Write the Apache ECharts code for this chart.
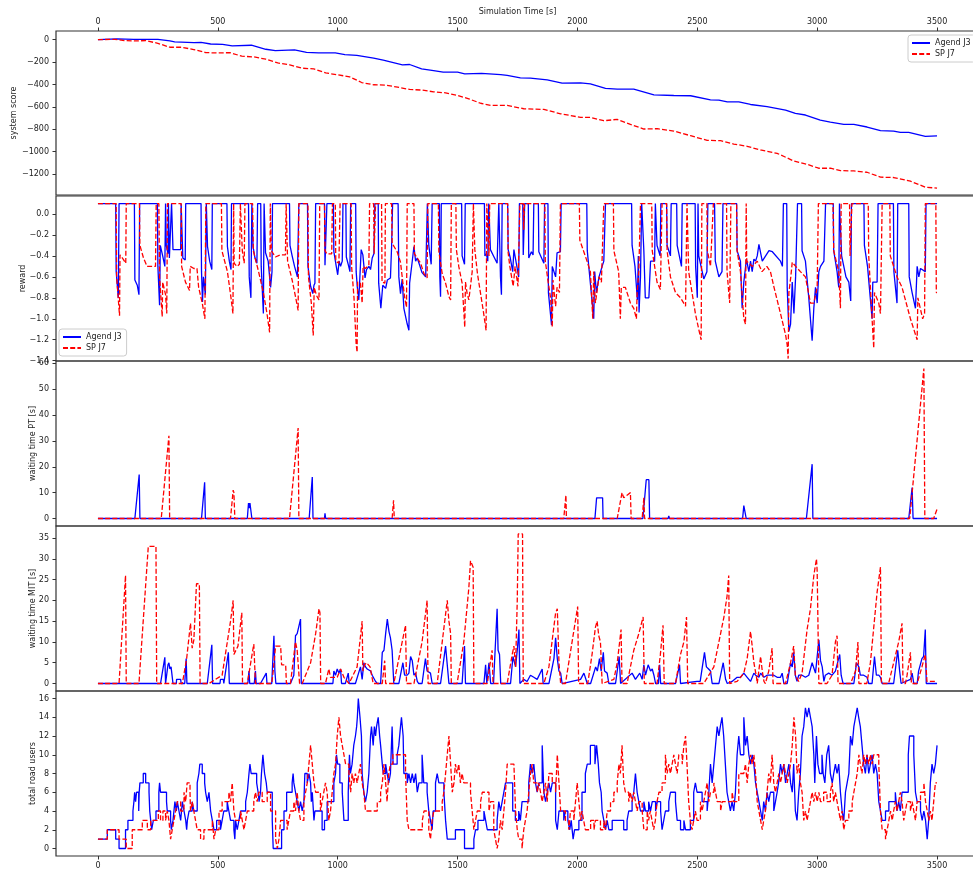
<!DOCTYPE html>
<html><head><meta charset="utf-8">
<script src="https://cdn.jsdelivr.net/npm/echarts@6/dist/echarts.min.js"></script>
<style>html,body{margin:0;padding:0;background:#fff}#c{width:973px;height:870px}</style>
</head><body><div id="c"></div>
<script>
// ---------- data ----------
const seriesNames = ['Agend J3', 'SP J7'];
const xTicks = [0, 500, 1000, 1500, 2000, 2500, 3000, 3500];
const scoreTicks = [-1200, -1000, -800, -600, -400, -200, 0];
const rewardTicks = [-1.4, -1.2, -1.0, -0.8, -0.6, -0.4, -0.2, 0.0];
const ptTicks = [0, 10, 20, 30, 40, 50, 60];
const mitTicks = [0, 5, 10, 15, 20, 25, 30, 35];
const usersTicks = [0, 2, 4, 6, 8, 10, 12, 14, 16];

const scoreBlue = [[0,0],[80,6],[150,3],[250,3],[300,-12],[320,-20],[400,-27],[430,-24],[470,-39],[520,-42],[560,-56],[640,-50],[700,-86],[740,-98],[820,-92],[870,-113],[920,-119],[990,-119],[1030,-134],[1080,-140],[1150,-166],[1190,-184],[1270,-225],[1300,-222],[1350,-261],[1400,-276],[1440,-291],[1500,-291],[1530,-306],[1600,-302],[1680,-312],[1707,-320],[1762,-341],[1804,-344],[1874,-359],[1936,-389],[2013,-386],[2054,-395],[2117,-436],[2166,-442],[2235,-442],[2319,-493],[2402,-499],[2472,-501],[2555,-537],[2590,-540],[2625,-555],[2673,-555],[2722,-579],[2791,-599],[2868,-629],[2909,-659],[2951,-673],[3013,-718],[3055,-736],[3111,-757],[3153,-757],[3208,-780],[3264,-813],[3319,-816],[3347,-828],[3382,-828],[3451,-863],[3500,-860]];
const scoreRed = [[0,0],[70,3],[110,-9],[150,-12],[200,-9],[250,-33],[300,-68],[350,-68],[400,-89],[450,-116],[500,-119],[550,-116],[600,-148],[650,-154],[700,-175],[750,-208],[800,-225],[850,-255],[900,-261],[950,-297],[1000,-314],[1050,-332],[1100,-383],[1150,-403],[1200,-406],[1250,-424],[1300,-445],[1350,-450],[1400,-466],[1450,-475],[1500,-498],[1550,-531],[1596,-568],[1638,-587],[1707,-587],[1776,-617],[1860,-623],[1930,-662],[2013,-694],[2054,-694],[2110,-724],[2166,-712],[2221,-757],[2277,-798],[2333,-795],[2402,-816],[2472,-858],[2541,-899],[2597,-902],[2652,-932],[2708,-952],[2763,-985],[2833,-1015],[2902,-1083],[2958,-1113],[3006,-1148],[3055,-1148],[3097,-1169],[3153,-1172],[3208,-1184],[3264,-1228],[3319,-1231],[3389,-1264],[3451,-1317],[3500,-1326]];

const rewardBlue = [[0,0.1],[74,0.1],[76,-0.55],[85,-0.8],[88,0.1],[152,0.1],[154,-0.63],[164,-0.68],[171,-0.77],[174,0.1],[248,0.1],[250,-0.5],[257,-0.87],[260,-0.3],[270,-0.4],[279,-0.5],[282,0.1],[283,0.1],[285,-0.3],[292,-0.38],[294,0.1],[296,0.1],[298,-0.42],[305,-0.43],[307,0.1],[311,0.1],[313,-0.34],[345,-0.34],[347,0.1],[352,0.1],[354,-0.42],[364,-0.44],[366,0.1],[430,0.1],[432,-0.55],[436,-0.84],[440,-0.6],[448,-0.77],[452,0.1],[455,0.1],[457,-0.31],[466,-0.45],[475,-0.53],[477,0.1],[538,0.1],[540,-0.31],[548,-0.45],[555,-0.53],[557,0.1],[628,0.1],[631,-0.6],[638,-0.8],[642,0.1],[645,0.1],[647,-0.31],[655,-0.42],[663,-0.47],[666,0.1],[679,0.1],[681,-0.5],[690,-0.95],[693,0.1],[697,0.1],[699,-0.37],[710,-0.45],[720,-0.7],[726,-0.55],[728,0.1],[799,0.1],[801,-0.3],[810,-0.4],[820,-0.5],[832,-0.6],[838,0.1],[874,0.1],[876,-0.5],[887,-0.69],[896,-0.76],[901,-0.68],[905,-0.66],[908,0.1],[945,0.1],[947,-0.49],[952,-0.49],[955,0.1],[982,0.1],[984,-0.36],[994,-0.5],[1000,-0.58],[1006,-0.45],[1012,-0.5],[1019,-0.45],[1022,0.1],[1034,0.1],[1036,-0.41],[1046,-0.5],[1051,-0.55],[1054,0.1],[1075,0.1],[1077,-0.55],[1082,-0.7],[1088,-0.82],[1098,-0.34],[1105,-0.39],[1114,-0.61],[1120,-0.53],[1130,-0.5],[1137,-0.53],[1144,-0.42],[1151,-0.38],[1155,0.1],[1169,0.1],[1171,-0.66],[1180,-0.9],[1188,-0.68],[1200,-0.71],[1207,-0.63],[1214,-0.63],[1220,-0.61],[1225,-0.3],[1229,0.1],[1252,0.1],[1255,-0.6],[1262,-0.76],[1269,-0.62],[1276,-0.9],[1290,-1.05],[1297,-1.11],[1300,-0.66],[1310,-0.47],[1318,-0.31],[1325,-0.45],[1332,-0.42],[1352,-0.56],[1367,-0.6],[1374,0.1],[1378,0.1],[1380,-0.3],[1390,-0.48],[1394,0.1],[1424,0.1],[1426,-0.6],[1429,-0.79],[1432,0.1],[1517,0.1],[1519,-0.4],[1529,-0.48],[1532,0.1],[1612,0.1],[1614,-0.4],[1620,-0.38],[1626,-0.45],[1630,0.1],[1635,0.1],[1637,-0.34],[1650,-0.4],[1665,-0.47],[1672,0.1],[1677,0.1],[1679,-0.6],[1683,-0.77],[1686,0.1],[1709,0.1],[1711,-0.34],[1720,-0.42],[1730,-0.55],[1735,-0.34],[1745,-0.47],[1755,-0.6],[1758,0.1],[1772,0.1],[1774,-0.39],[1780,0.1],[1795,0.1],[1797,-0.42],[1808,-0.36],[1815,-0.39],[1818,0.1],[1837,0.1],[1839,-0.36],[1860,-0.47],[1863,0.1],[1877,0.1],[1879,-0.75],[1892,-1.06],[1895,-0.5],[1909,-0.6],[1915,-0.37],[1929,-0.36],[1932,0.1],[2039,0.1],[2041,-0.35],[2068,-1.0],[2072,-0.55],[2079,-0.75],[2090,-0.6],[2103,-0.5],[2110,-0.45],[2117,0.1],[2226,0.1],[2228,-0.3],[2240,-0.5],[2250,-0.82],[2254,-0.4],[2257,-0.94],[2263,-0.6],[2268,0.1],[2275,0.1],[2277,-0.35],[2283,-0.8],[2298,-0.8],[2305,-0.45],[2322,-0.45],[2325,0.1],[2330,0.1],[2332,-0.3],[2345,-0.4],[2348,0.1],[2372,0.1],[2374,-0.3],[2388,-0.4],[2391,0.1],[2414,0.1],[2416,-0.3],[2434,-0.5],[2437,0.1],[2491,0.1],[2493,-0.5],[2500,-0.8],[2503,0.1],[2504,0.1],[2506,-0.4],[2527,-0.62],[2540,-0.55],[2544,0.1],[2572,0.1],[2575,-0.45],[2590,-0.6],[2603,-0.55],[2607,0.1],[2664,0.1],[2666,-0.35],[2680,-0.45],[2687,-0.9],[2694,-0.65],[2705,-0.43],[2715,-0.55],[2722,-0.45],[2729,-0.55],[2736,-0.43],[2743,-0.45],[2750,-0.4],[2757,-0.29],[2764,-0.3],[2771,-0.45],[2785,-0.4],[2799,-0.35],[2813,-0.36],[2847,-0.45],[2855,-0.5],[2859,0.1],[2873,0.1],[2875,-0.7],[2882,-1.12],[2889,-1.05],[2896,-0.65],[2903,-0.95],[2910,-0.6],[2918,0.1],[2935,0.1],[2937,-0.35],[2951,-0.45],[2965,-0.8],[2979,-1.21],[2986,-0.9],[2993,-0.7],[3000,-0.85],[3007,-0.55],[3014,-0.5],[3028,-0.45],[3035,0.1],[3067,0.1],[3069,-0.35],[3083,-0.55],[3090,-0.7],[3093,0.1],[3100,0.1],[3102,-0.4],[3120,-0.6],[3132,-0.65],[3140,-0.83],[3143,0.1],[3195,0.1],[3197,-0.3],[3210,-0.5],[3229,-1.0],[3232,-0.65],[3250,-0.65],[3254,0.1],[3318,0.1],[3320,-0.55],[3333,-0.85],[3336,0.1],[3382,0.1],[3384,-0.6],[3396,-0.75],[3410,-0.9],[3417,-0.5],[3424,-0.6],[3431,-0.52],[3451,-0.55],[3454,0.1],[3500,0.1]];
const rewardRed = [[0,0.1],[76,0.1],[78,-0.6],[90,-0.97],[92,-0.39],[105,-0.43],[116,-0.47],[118,0.1],[173,0.1],[175,-0.3],[190,-0.42],[205,-0.5],[240,-0.5],[243,0.1],[254,0.1],[257,-0.6],[268,-0.98],[270,-0.65],[282,-0.77],[287,-0.95],[290,0.1],[347,0.1],[349,-0.5],[365,-0.65],[382,-0.73],[385,-0.5],[400,-0.52],[413,-0.52],[420,-0.7],[435,-0.85],[446,-1.0],[450,0.1],[515,0.1],[517,-0.35],[540,-0.55],[555,-0.8],[563,-0.95],[566,0.1],[568,-0.47],[580,-0.5],[590,-0.48],[594,0.1],[600,0.1],[602,-0.35],[610,-0.47],[613,0.1],[645,0.1],[648,-0.35],[670,-0.55],[690,-0.75],[705,-0.95],[716,-1.13],[719,0.1],[721,0.1],[723,-0.35],[740,-0.41],[760,-0.39],[782,-0.39],[785,0.1],[789,0.1],[791,-0.45],[810,-0.63],[825,-0.8],[835,-0.92],[838,0.1],[876,0.1],[878,-0.6],[890,-0.85],[898,-1.16],[902,-0.7],[912,-0.78],[922,-0.82],[925,0.1],[945,0.1],[947,-0.35],[955,-0.38],[975,-0.38],[978,0.1],[990,0.1],[992,-0.45],[1005,-0.47],[1010,0.1],[1056,0.1],[1058,-0.5],[1068,-0.8],[1077,-1.24],[1081,-1.32],[1083,-0.65],[1095,-0.66],[1102,-0.85],[1106,-0.5],[1115,-0.52],[1130,-0.49],[1133,0.1],[1150,0.1],[1152,-0.38],[1158,0.1],[1183,0.1],[1185,-0.65],[1197,-0.66],[1199,0.1],[1225,0.1],[1227,-0.28],[1248,-0.36],[1262,-0.46],[1269,-0.6],[1279,-0.79],[1287,-0.89],[1290,0.1],[1318,0.1],[1320,-0.38],[1346,-0.47],[1360,-0.57],[1373,-0.61],[1376,0.1],[1420,0.1],[1422,-0.36],[1436,-0.57],[1450,-0.66],[1464,-0.79],[1471,-0.82],[1474,0.1],[1493,0.1],[1495,-0.34],[1505,-0.5],[1519,-0.66],[1530,-1.08],[1533,-0.65],[1540,-0.76],[1547,-0.82],[1554,-0.82],[1561,-0.55],[1566,0.1],[1570,0.1],[1572,-0.34],[1583,-0.57],[1596,-0.76],[1607,-0.92],[1619,-1.11],[1622,0.1],[1630,0.1],[1631,-0.4],[1634,0.1],[1709,0.1],[1711,-0.37],[1718,-0.5],[1732,-0.69],[1740,-0.5],[1752,-0.69],[1760,0.1],[1775,0.1],[1776,-0.15],[1779,0.1],[1864,0.1],[1866,-0.45],[1878,-0.65],[1888,-0.8],[1895,-1.08],[1898,-0.63],[1905,-0.8],[1909,-0.88],[1915,-0.7],[1925,-0.75],[1929,0.1],[2008,0.1],[2010,-0.25],[2040,-0.45],[2054,-0.55],[2064,-1.0],[2068,-0.55],[2075,-0.85],[2090,-0.6],[2100,-0.65],[2110,0.1],[2150,0.1],[2152,-0.35],[2172,-0.55],[2179,-1.0],[2183,-0.7],[2200,-0.7],[2207,-0.75],[2221,-0.85],[2235,-0.9],[2246,-1.0],[2249,-0.75],[2256,-0.55],[2263,0.1],[2310,0.1],[2312,-0.35],[2332,-0.65],[2346,-0.72],[2353,0.1],[2372,0.1],[2374,-0.35],[2388,-0.6],[2409,-0.75],[2430,-0.8],[2451,-0.88],[2457,0.1],[2462,0.1],[2464,-0.55],[2492,-0.95],[2506,-1.1],[2516,-1.2],[2519,0.1],[2540,0.1],[2542,-0.35],[2555,-0.5],[2567,0.1],[2622,0.1],[2624,-0.55],[2635,-0.85],[2640,0.1],[2664,0.1],[2666,-0.35],[2680,-0.55],[2694,-1.0],[2701,-1.05],[2704,0.1],[2706,-0.45],[2730,-0.5],[2750,-0.45],[2770,-0.55],[2790,-0.5],[2805,-0.55],[2820,-0.7],[2847,-0.95],[2868,-1.15],[2875,-1.25],[2879,-1.38],[2882,-0.75],[2890,-0.6],[2896,-0.46],[2903,-0.48],[2930,-0.55],[2951,-0.6],[2972,-0.85],[2986,-0.85],[3000,-0.7],[3005,0.1],[3066,0.1],[3069,-0.35],[3090,-0.55],[3097,-0.9],[3100,0.1],[3135,0.1],[3137,-0.4],[3145,0.1],[3213,0.1],[3215,-0.4],[3229,-1.0],[3236,-1.28],[3239,-0.75],[3257,-0.85],[3264,-0.95],[3271,0.1],[3303,0.1],[3305,-0.4],[3333,-0.6],[3354,-0.7],[3389,-1.0],[3417,-1.2],[3420,-0.8],[3440,-1.0],[3448,-0.95],[3451,0.1],[3495,0.1],[3497,-0.75],[3500,-0.75]];

const ptBlue = [[0,0],[154,0],[172,17],[175,0],[432,0],[445,14],[448,0],[623,0],[628,6],[631,4],[634,6],[640,6.5],[642,0],[881,0],[894,16],[897,0],[945,0],[947,2],[950,0],[2073,0],[2080,8],[2105,8],[2107,0],[2273,0],[2287,15],[2298,15],[2301,0],[2378,0],[2381,1],[2384,0],[2689,0],[2694,5],[2701,5],[2704,0],[2955,0],[2979,21],[2982,0],[3382,0],[3396,12],[3400,0],[3500,0]];
const ptRed = [[0,0],[264,0],[296,32],[299,0],[553,0],[564,11],[567,10],[571,0],[799,0],[835,35],[838,0],[1227,0],[1233,7],[1236,0],[1943,0],[1952,9],[1954,0],[2166,0],[2186,10],[2193,8],[2207,9],[2221,10],[2224,0],[2270,0],[2277,8],[2280,0],[3386,0],[3445,58],[3449,0],[3486,0],[3500,3.6]];

const mitBlue = [[0,0],[150,0],[154,0.4],[158,0],[261,0],[279,6.3],[282,0],[288,0],[292,4.5],[296,5],[300,3.5],[305,4],[311,4],[313,0],[327,0],[328,1],[345,1],[347,0],[362,0],[368,6],[371,0],[456,0],[475,9.3],[478,0],[509,0],[511,1],[523,1],[525,0],[544,7.5],[548,0],[625,0],[630,3],[633,0],[652,0],[657,3],[660,0],[678,0],[702,2.5],[705,0],[725,0],[734,11.5],[738,3],[742,0],[803,0],[817,2],[824,11.5],[831,12],[845,15.5],[848,0],[980,0],[984,3],[991,2],[998,3.5],[1005,2.5],[1012,3.5],[1016,0],[1032,0],[1044,2.5],[1048,0],[1074,0],[1095,4],[1102,1],[1109,5],[1116,4],[1123,3.5],[1137,3],[1144,2],[1158,0.5],[1165,0],[1179,0],[1186,7.5],[1193,8],[1200,12],[1207,15.5],[1214,12.5],[1220,11],[1227,8],[1234,0],[1255,0],[1272,5],[1279,2],[1290,2],[1297,2.5],[1304,6.5],[1311,5.5],[1318,2],[1325,2.5],[1332,0.5],[1338,0],[1352,0],[1366,6],[1373,3],[1387,2.5],[1394,0],[1429,0],[1450,9],[1464,0],[1519,0],[1529,9],[1533,0],[1610,0],[1617,4.5],[1622,0],[1624,0],[1631,5],[1638,0],[1650,0],[1665,18],[1669,8],[1675,7],[1680,0],[1721,0],[1731,6.5],[1742,4],[1749,8],[1756,13],[1760,0],[1776,1],[1790,0.5],[1804,2],[1818,1.5],[1832,1],[1853,3.5],[1857,0],[1881,0],[1902,6],[1909,11],[1916,6],[1923,3],[1930,2.5],[1936,0],[2013,1],[2027,2.5],[2041,0],[2055,0],[2076,4],[2083,3],[2092,6],[2099,3],[2108,7.5],[2113,3],[2124,2.5],[2131,0],[2159,0],[2174,6.5],[2180,0],[2228,2.5],[2242,1],[2260,2.5],[2270,1],[2277,4.5],[2284,2],[2295,4.5],[2305,3],[2312,3.5],[2319,2],[2326,0],[2338,0],[2343,4.5],[2347,0],[2409,0],[2426,4.5],[2430,0],[2499,0.5],[2512,0.5],[2530,7.5],[2538,4],[2547,3.5],[2555,3],[2562,0],[2590,0],[2608,5],[2618,1],[2625,0],[2645,0.5],[2666,1.5],[2680,1.5],[2694,2.5],[2708,1.5],[2722,0.5],[2736,2.5],[2743,2],[2757,1.5],[2764,2.5],[2778,1.5],[2791,2],[2805,2],[2819,2],[2833,1.5],[2847,1.5],[2854,2.5],[2861,0],[2875,0],[2889,5],[2896,4],[2902,7.5],[2909,2],[2916,0.5],[2923,2],[2937,2],[2951,1.5],[2965,2],[2979,5],[2993,2.5],[3007,10.5],[3014,5.5],[3021,4],[3028,0.5],[3034,2],[3048,2.5],[3062,2],[3076,3],[3094,7],[3100,2],[3108,0],[3153,0],[3164,5],[3174,4],[3180,2],[3194,2],[3208,1.5],[3215,0],[3229,0],[3239,6.5],[3247,2],[3257,2],[3264,1.5],[3271,0],[3319,0],[3336,8],[3344,3],[3350,0],[3389,1],[3396,2.5],[3403,0],[3417,0],[3423,3],[3437,6],[3444,6.5],[3451,13],[3455,0],[3500,0]];
const mitRed = [[0,0],[88,0],[115,26],[118,0],[171,0],[210,33],[242,33],[245,0],[352,0],[370,6],[386,14.5],[393,8.5],[400,10.5],[411,24],[423,24],[426,0],[463,0],[518,2],[553,15],[564,20],[567,7],[574,7],[584,9],[600,17],[603,0],[623,0],[650,9.5],[657,0],[725,0],[731,3],[741,9],[762,9],[766,4.5],[783,4.5],[786,0],[803,0],[824,10],[831,8],[838,8],[841,0],[852,0],[887,5],[908,12],[922,18],[926,17],[929,0],[949,0],[963,3.5],[970,1.5],[984,1.5],[998,1.5],[1012,3.5],[1026,1.5],[1047,0],[1054,0],[1081,4],[1102,15],[1105,3],[1112,4.5],[1120,5],[1135,4],[1148,0],[1186,0],[1196,5.5],[1200,0],[1234,0],[1283,14],[1287,0],[1318,0],[1352,10],[1373,20],[1377,0],[1415,0],[1457,20],[1464,15],[1471,12],[1474,0],[1498,0],[1526,10],[1547,23],[1554,29.5],[1565,28],[1568,0],[1624,0],[1644,8],[1648,0],[1707,0],[1728,7],[1735,9],[1742,4],[1749,20],[1753,36],[1771,36],[1774,0],[1860,0],[1881,4],[1909,17],[1916,18],[1923,5],[1930,0],[1950,0],[2001,18.5],[2005,0],[2043,0],[2061,7],[2075,13.5],[2082,15],[2089,11.5],[2096,10],[2103,0],[2152,1],[2166,5],[2182,13],[2186,0],[2207,0],[2221,4],[2235,8],[2256,12],[2274,16],[2279,0],[2332,0],[2346,7],[2357,14],[2362,0],[2409,0],[2430,7],[2444,10],[2455,16],[2460,0],[2527,0],[2548,2],[2569,4],[2590,10],[2611,16],[2624,21],[2631,26],[2635,0],[2666,0.5],[2694,2.5],[2708,6],[2722,12.5],[2729,9],[2736,5],[2747,1.5],[2750,0],[2753,0],[2764,6.5],[2771,3],[2778,0.5],[2784,0],[2798,3],[2812,8.5],[2816,0],[2868,0],[2889,5],[2902,9],[2909,2],[2923,0.5],[2937,2.5],[2958,13],[2972,18],[2986,26],[2997,30],[3000,27],[3007,0],[3041,0],[3062,2],[3076,10],[3083,11.5],[3087,0],[3139,0],[3160,3],[3170,10],[3174,0],[3207,0],[3222,5],[3250,22],[3264,28],[3268,0],[3298,0],[3319,5],[3340,10],[3354,14.5],[3358,0],[3368,0],[3375,2],[3389,7.5],[3393,0],[3417,0],[3437,4],[3451,7],[3458,0.5],[3500,0.5]];

const usersBlue = [[0,1],[39,2],[74,1],[88,0],[115,2],[125,3],[146,4],[150,5],[153,6],[157,5],[161,6],[170,4],[172,6],[175,7],[189,8],[199,7],[213,6],[216,4],[220,3],[224,2],[231,3],[242,4],[254,6],[257,7],[261,6],[286,5],[289,4],[303,3],[306,2],[313,3],[321,5],[327,4],[331,5],[338,4],[345,3],[352,5],[359,4],[366,3],[370,2],[373,3],[380,4],[393,5],[400,4],[414,7],[421,8],[425,9],[435,8],[445,7],[449,6],[456,5],[463,6],[470,4],[477,3],[484,2],[495,3],[511,2],[518,3],[525,4],[539,5],[546,4],[553,3],[567,2],[571,1],[574,3],[581,2],[588,3],[595,4],[616,5],[623,6],[630,8],[634,9],[639,8],[662,7],[668,6],[672,5],[678,6],[682,8],[688,10],[695,8],[702,7],[706,6],[727,3],[731,0],[766,2],[776,4],[787,6],[810,7],[814,8],[817,7],[824,6],[831,5],[838,4],[845,5],[852,4],[859,5],[863,8],[873,7],[880,8],[887,7],[890,5],[894,6],[901,3],[905,4],[935,2],[945,3],[956,5],[984,7],[991,8],[995,10],[1000,9],[1009,7],[1019,6],[1026,3],[1044,6],[1049,10],[1053,8],[1060,9],[1067,11],[1074,12],[1079,13],[1082,14],[1086,16],[1093,14],[1099,12],[1102,8],[1109,6],[1116,5],[1123,6],[1130,8],[1137,12],[1141,13],[1148,11],[1153,13],[1158,12],[1162,13],[1169,14],[1175,12],[1179,11],[1186,9],[1190,8],[1200,9],[1206,8],[1213,7],[1220,8],[1227,13],[1231,9],[1248,10],[1255,11],[1262,13],[1266,14],[1273,12],[1276,8],[1290,7],[1297,8],[1304,7],[1311,8],[1318,7],[1325,8],[1332,6],[1339,7],[1352,10],[1359,7],[1373,6],[1380,4],[1387,3],[1394,2],[1398,4],[1408,7],[1415,8],[1422,7],[1443,6],[1450,3],[1457,1],[1491,2],[1529,0],[1568,1],[1575,2],[1585,3],[1610,4],[1617,3],[1624,2],[1665,3],[1672,5],[1679,4],[1686,5],[1693,6],[1700,7],[1730,4],[1741,3],[1755,4],[1762,3],[1769,5],[1797,7],[1804,9],[1811,8],[1818,9],[1825,7],[1832,6],[1839,7],[1853,11],[1860,6],[1867,5],[1874,6],[1881,7],[1888,6],[1895,7],[1909,3],[1916,2],[1923,4],[1943,3],[1950,4],[1960,3],[1968,2],[1974,3],[1982,1],[1988,2],[2006,3],[2019,6],[2033,8],[2041,9],[2054,11],[2073,9],[2080,11],[2087,9],[2092,7],[2099,6],[2103,4],[2110,3],[2117,2],[2124,3],[2131,2],[2145,3],[2193,2],[2207,3],[2214,4],[2228,5],[2235,6],[2242,8],[2249,6],[2256,5],[2263,4],[2277,5],[2284,4],[2297,5],[2305,4],[2312,5],[2326,4],[2333,5],[2347,4],[2353,2],[2360,3],[2367,4],[2381,5],[2388,6],[2409,5],[2416,3],[2430,2],[2444,3],[2451,2],[2471,3],[2485,6],[2492,7],[2499,6],[2520,5],[2541,4],[2548,6],[2555,9],[2562,7],[2569,9],[2576,11],[2583,13],[2590,12],[2596,13],[2603,14],[2610,12],[2617,9],[2624,6],[2631,5],[2638,4],[2645,5],[2652,4],[2659,6],[2666,10],[2673,12],[2680,10],[2694,14],[2701,11],[2708,12],[2715,10],[2722,9],[2729,10],[2736,9],[2743,7],[2750,6],[2757,5],[2764,4],[2771,3],[2777,5],[2784,4],[2791,6],[2798,5],[2805,6],[2819,4],[2826,5],[2833,6],[2839,7],[2847,9],[2854,8],[2861,9],[2868,7],[2875,8],[2882,9],[2889,7],[2896,6],[2902,9],[2909,4],[2916,3],[2923,6],[2930,8],[2937,12],[2944,13],[2951,15],[2958,14],[2965,15],[2972,14],[2979,13],[2986,10],[2990,7],[2997,12],[3003,9],[3010,8],[3020,10],[3025,8],[3032,7],[3040,10],[3048,11],[3055,8],[3063,7],[3069,8],[3076,9],[3083,8],[3090,9],[3097,6],[3104,4],[3111,3],[3118,6],[3125,7],[3132,8],[3139,12],[3146,11],[3153,13],[3160,14],[3167,15],[3173,14],[3180,13],[3187,11],[3194,9],[3201,8],[3208,10],[3215,8],[3222,9],[3229,10],[3236,8],[3243,9],[3250,8],[3257,5],[3264,4],[3271,3],[3285,4],[3299,5],[3326,6],[3333,4],[3340,5],[3347,4],[3354,6],[3380,10],[3385,12],[3403,10],[3410,6],[3417,5],[3431,4],[3438,3],[3445,4],[3452,3],[3459,1],[3465,3],[3472,7],[3479,9],[3486,8],[3493,9],[3500,11]];
const usersRed = [[0,1],[39,2],[88,1],[118,0],[143,2],[185,3],[206,2],[220,3],[252,4],[261,3],[271,4],[282,3],[289,4],[296,3],[303,1],[310,2],[317,3],[324,4],[331,5],[345,4],[359,6],[366,5],[372,7],[384,6],[386,4],[393,5],[400,4],[407,3],[414,2],[428,1],[442,2],[477,3],[484,1],[491,2],[505,4],[518,5],[546,6],[553,5],[560,7],[567,4],[574,3],[595,4],[602,3],[609,2],[616,3],[623,4],[650,5],[657,6],[664,5],[671,6],[685,5],[706,6],[720,4],[741,1],[748,0],[755,1],[762,3],[789,2],[796,3],[803,4],[817,5],[824,4],[831,6],[838,4],[845,3],[859,5],[866,6],[873,7],[880,9],[887,11],[894,9],[901,7],[908,6],[928,4],[935,5],[942,6],[949,7],[956,6],[963,3],[970,4],[977,6],[984,8],[991,9],[998,12],[1005,14],[1012,12],[1019,11],[1026,10],[1033,9],[1047,8],[1054,6],[1060,8],[1067,7],[1074,8],[1081,7],[1088,8],[1095,9],[1102,7],[1109,6],[1116,4],[1165,5],[1179,6],[1186,7],[1193,9],[1200,7],[1206,5],[1213,8],[1220,9],[1230,10],[1283,8],[1290,3],[1297,2],[1353,3],[1360,4],[1380,2],[1387,1],[1394,3],[1401,4],[1436,5],[1443,6],[1450,8],[1457,10],[1464,12],[1471,9],[1478,6],[1485,7],[1491,9],[1498,8],[1505,9],[1512,7],[1519,8],[1526,7],[1554,6],[1561,4],[1568,2],[1575,3],[1582,4],[1596,5],[1603,6],[1631,4],[1638,5],[1651,2],[1658,1],[1665,0],[1672,1],[1679,3],[1686,2],[1693,4],[1700,6],[1707,9],[1735,9],[1742,4],[1749,2],[1755,1],[1769,0],[1776,2],[1783,3],[1790,4],[1797,6],[1804,8],[1811,9],[1818,7],[1832,6],[1839,7],[1846,6],[1853,5],[1860,6],[1867,7],[1874,5],[1881,8],[1895,7],[1909,6],[1916,10],[1923,7],[1930,4],[1950,3],[1964,2],[1971,4],[1985,3],[1992,5],[1999,7],[2006,5],[2013,3],[2019,4],[2026,3],[2033,2],[2055,3],[2069,2],[2075,3],[2096,2],[2110,3],[2117,2],[2124,4],[2138,5],[2152,6],[2166,7],[2173,9],[2179,8],[2186,11],[2193,7],[2200,6],[2214,5],[2221,6],[2228,5],[2235,6],[2242,5],[2249,4],[2256,5],[2270,4],[2277,2],[2291,4],[2297,3],[2304,4],[2311,3],[2318,2],[2325,3],[2332,5],[2340,6],[2353,7],[2367,10],[2374,8],[2381,9],[2388,8],[2395,9],[2402,10],[2409,9],[2416,8],[2423,10],[2437,9],[2444,11],[2451,12],[2457,9],[2464,5],[2471,3],[2478,2],[2485,3],[2492,4],[2499,3],[2513,5],[2520,4],[2527,5],[2534,6],[2541,7],[2548,5],[2555,6],[2569,7],[2576,6],[2583,5],[2597,4],[2604,5],[2645,6],[2652,5],[2673,8],[2694,8],[2701,9],[2708,7],[2715,9],[2722,10],[2729,9],[2736,10],[2743,8],[2750,5],[2757,4],[2764,3],[2771,2],[2777,3],[2784,4],[2791,6],[2798,8],[2805,7],[2812,10],[2819,7],[2826,6],[2833,7],[2840,8],[2847,7],[2854,8],[2861,9],[2868,8],[2875,7],[2882,8],[2889,9],[2896,11],[2903,14],[2910,12],[2916,8],[2923,9],[2930,7],[2937,6],[2944,3],[2951,4],[2958,3],[2965,4],[2972,5],[2979,6],[2986,5],[2993,6],[3000,5],[3007,6],[3014,5],[3027,6],[3041,5],[3055,6],[3062,7],[3069,5],[3076,6],[3083,5],[3090,4],[3097,3],[3104,4],[3111,2],[3118,3],[3132,4],[3146,5],[3153,6],[3160,7],[3167,8],[3174,10],[3180,9],[3187,8],[3194,10],[3201,9],[3208,10],[3215,9],[3222,10],[3229,9],[3236,10],[3257,9],[3264,4],[3271,2],[3285,1],[3292,2],[3299,3],[3306,4],[3313,3],[3319,4],[3326,5],[3333,4],[3340,5],[3347,6],[3354,5],[3361,3],[3368,4],[3375,5],[3389,4],[3396,5],[3403,4],[3410,3],[3417,5],[3431,6],[3445,7],[3452,5],[3459,4],[3466,3],[3472,4],[3479,3],[3486,5],[3493,7],[3500,7]];

// ---------- chart ----------
const FONT = 'DejaVu Sans';
const TXT = '#222';
const BLUE = '#0000ff', RED = '#ff0000';
const DASH = [5, 2.2];
const minus = s => String(s).replace('-', '\u2212');

const panels = [
  {name:'system score', min:-1387, max:77, ticks:scoreTicks, fmt:v=>minus(v), gap:38, blue:scoreBlue, red:scoreRed},
  {name:'reward', min:-1.403, max:0.172, ticks:rewardTicks, fmt:v=>minus(v.toFixed(1)), gap:29.5, blue:rewardBlue, red:rewardRed},
  {name:'waiting time PT [s]', min:-2.9, max:60.9, ticks:ptTicks, fmt:v=>minus(v), gap:19.5, blue:ptBlue, red:ptRed},
  {name:'waiting time MIT [s]', min:-1.8, max:37.9, ticks:mitTicks, fmt:v=>minus(v), gap:19.5, blue:mitBlue, red:mitRed},
  {name:'total road users', min:-0.8, max:16.8, ticks:usersTicks, fmt:v=>minus(v), gap:19.5, blue:usersBlue, red:usersRed, step:'end'}
];
const tops = [31, 196, 361, 526, 691];
const H = 165;

const grid = [], xAxis = [], yAxis = [], series = [];
panels.forEach((p, i) => {
  grid.push({left:56, top:tops[i], width:923, height:(i===0?164:H), show:true, borderColor:'#333', borderWidth:1.2,
    backgroundColor:'transparent', containLabel:false, outerBoundsMode:'none'});
  const isTop = i === 0, isBottom = i === panels.length - 1;
  xAxis.push({
    type:'value', gridIndex:i, min:-175, max:3675,
    position: isTop ? 'top' : 'bottom',
    name: isTop ? 'Simulation Time [s]' : '', nameLocation:'middle', nameGap:15, nameMoveOverlap:false,
    nameTextStyle:{fontFamily:FONT, fontSize:8, color:TXT},
    axisLine:{show:false, onZero:false}, splitLine:{show:false},
    axisTick:{show:isTop||isBottom, inside:false, length:3.5, lineStyle:{color:'#333', width:1}, customValues:xTicks},
    axisLabel:{show:isTop||isBottom, margin:isTop?5:6, fontFamily:FONT, fontSize:8, color:TXT, customValues:xTicks, formatter:v=>minus(v)}
  });
  yAxis.push({
    type:'value', gridIndex:i, min:p.min, max:p.max,
    name:p.name, nameLocation:'middle', nameRotate:90, nameGap:p.gap, nameMoveOverlap:false,
    nameTextStyle:{fontFamily:FONT, fontSize:8, color:TXT},
    axisLine:{show:false, onZero:false}, splitLine:{show:false},
    axisTick:{show:true, inside:false, length:3.5, lineStyle:{color:'#333', width:1}, customValues:p.ticks},
    axisLabel:{margin:7, fontFamily:FONT, fontSize:8, color:TXT, customValues:p.ticks, formatter:p.fmt}
  });
  series.push({name:seriesNames[0], type:'line', xAxisIndex:i, yAxisIndex:i, data:p.blue, symbol:'none', step:p.step||false,
    lineStyle:{color:BLUE, width:1.3}, itemStyle:{color:BLUE}, z:2});
  series.push({name:seriesNames[1], type:'line', xAxisIndex:i, yAxisIndex:i, data:p.red, symbol:'none', step:p.step||false,
    lineStyle:{color:RED, width:1.3, type:DASH}, itemStyle:{color:RED}, z:3});
});

const legendBase = {
  data: seriesNames, orient:'vertical', itemWidth:18, itemHeight:8, itemGap:3,
  padding:[4,5,4,3], backgroundColor:'#fff', borderColor:'#cccccc', borderWidth:1, borderRadius:3,
  itemStyle:{opacity:0},
  textStyle:{fontFamily:FONT, fontSize:8, color:TXT}, selectedMode:false
};

const chart = echarts.init(document.getElementById('c'), null, {renderer:'canvas'});
chart.setOption({
  animation:false,
  backgroundColor:'#fff',
  grid, xAxis, yAxis, series,
  legend:[
    Object.assign({}, legendBase, {left:908, top:35}),
    Object.assign({}, legendBase, {left:59, top:329})
  ]
});
</script></body></html>
